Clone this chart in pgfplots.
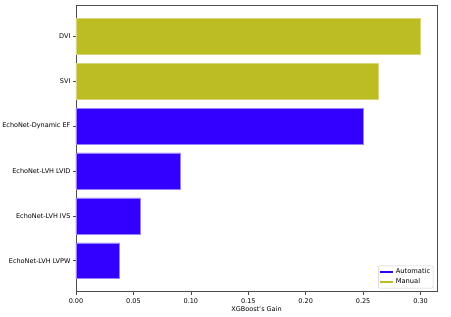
\documentclass[border=0pt]{standalone}
\usepackage{pgfplots}
\pgfplotsset{compat=1.18}
\usepackage{fontspec}
\setmainfont{DejaVu Sans}
\definecolor{autoblue}{RGB}{51,0,255}
\definecolor{manolive}{RGB}{188,189,34}
\begin{document}
\begin{tikzpicture}
\begin{axis}[
  name=ax,
  scale only axis,
  width=361pt, height=286.4pt,
  xmin=0, xmax=0.3143,
  ymin=-0.69, ymax=5.69,
  ytick={0,1,2,3,4,5},
  yticklabels={EchoNet-LVH LVPW,EchoNet-LVH IVS,EchoNet-LVH LVID,EchoNet-Dynamic EF,SVI,DVI},
  xtick={0,0.05,0.1,0.15,0.2,0.25,0.3},
  xticklabel style={/pgf/number format/.cd,fixed,fixed zerofill,precision=2},
  /pgf/number format/assume math mode=true,
  tick label style={font=\fontsize{6.5}{7}\selectfont},
  yticklabel style={xshift=1pt},
  tick align=outside, tick pos=lower,
  major tick length=3pt,
  axis line style={black!70, line width=0.6pt},
  every tick/.style={black!70, line width=0.5pt},
  xlabel={XGBoost's Gain},
  xlabel style={font=\fontsize{6.5}{7}\selectfont, yshift=3pt},
  legend style={font=\fontsize{6.7}{7}\selectfont, draw=black!20, rounded corners=1pt, at={(0.99,0.012)}, anchor=south east, inner sep=1pt, row sep=-1pt},
  legend cell align=left,
  legend image code/.code={\draw[#1] (0cm,0cm) -- (0.45cm,0cm);},
]
\addplot[xbar, bar width=0.8, bar shift=0pt, fill=autoblue, draw=autoblue!50, forget plot] coordinates {(0.0380,0) (0.0557,1) (0.0911,2) (0.2500,3)};
\addplot[xbar, bar width=0.8, bar shift=0pt, fill=manolive, draw=manolive!60, forget plot] coordinates {(0.2630,4) (0.2993,5)};
\addlegendimage{autoblue, line width=1.6pt}
\addlegendentry{Automatic}
\addlegendimage{manolive, line width=1.6pt}
\addlegendentry{Manual}
\end{axis}
\pgfresetboundingbox
\path ([shift={(-76pt,-24.3pt)}]ax.south west) rectangle ([shift={(14pt,5.3pt)}]ax.north east);
\end{tikzpicture}
\end{document}
